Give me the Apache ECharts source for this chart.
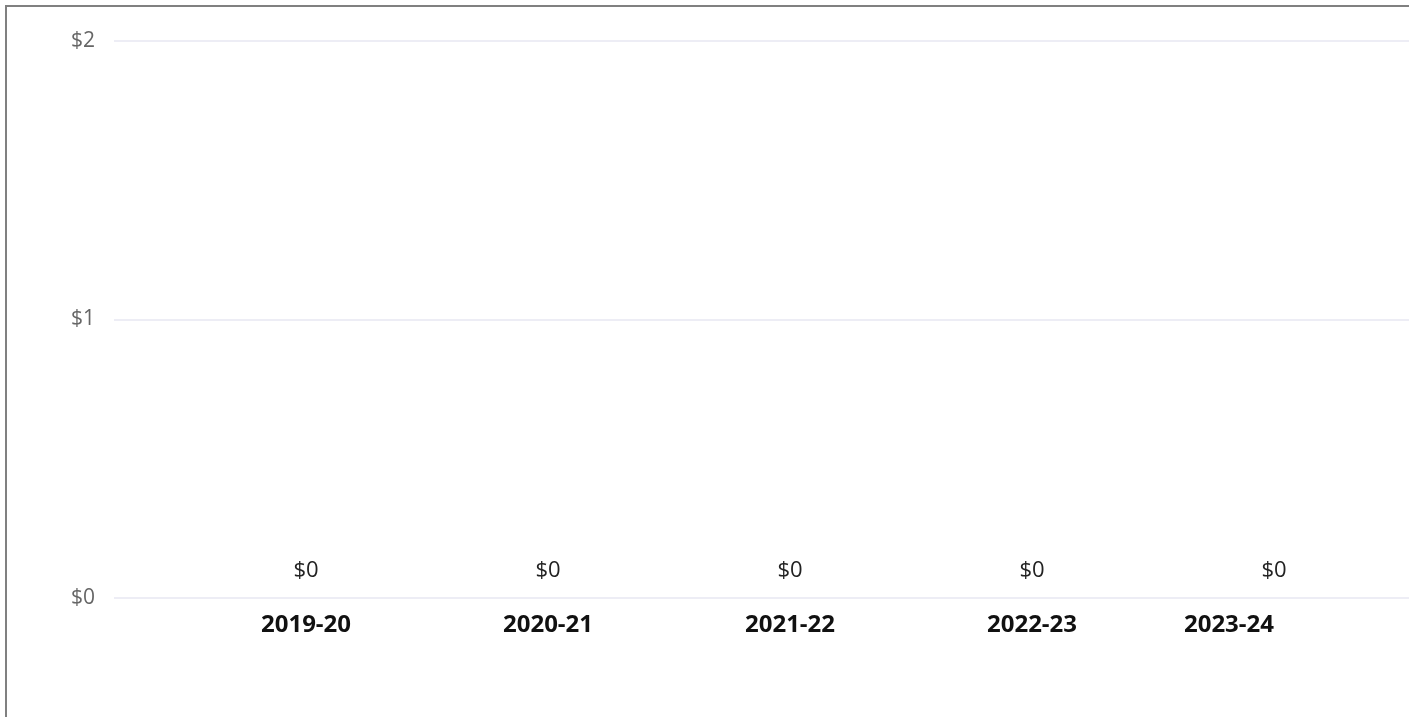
<!DOCTYPE html>
<html>
<head>
<meta charset="utf-8">
<script src="https://cdn.jsdelivr.net/npm/echarts@6/dist/echarts.min.js"></script>
<style>
  html, body { margin: 0; padding: 0; overflow: hidden; background: #fff; }
  #frame {
    position: absolute; left: 5px; top: 5px;
    width: 1500px; height: 800px;
    border: 2px solid #808080;
  }
  #chart { width: 1500px; height: 800px; }
</style>
</head>
<body>
<div id="frame"><div id="chart"></div></div>
<script>
const YEARS = ['2019-20', '2020-21', '2021-22', '2022-23', '2023-24']
const AMOUNTS = [0, 0, 0, 0, 0]
const Y_TICKS = [0, 1, 2]

const FONT = '"Segoe UI", "Open Sans", "Noto Sans", sans-serif'
const money = v => '$' + v

let myChart = echarts.init(document.getElementById('chart'))
myChart.setOption({
  animation: false,
  grid: [
    // background grid: y labels and split lines
    { left: 107, right: 0, top: 34, bottom: 209 },
    // bars
    { left: 178, right: 112, top: 34, bottom: 209 }
  ],
  xAxis: [{
    gridIndex: 0,
    type: 'category',
    data: YEARS,
    show: false
  }, {
    gridIndex: 1,
    type: 'category',
    data: YEARS,
    axisLine: { show: false },
    axisTick: { show: false },
    axisLabel: {
      color: '#111',
      fontFamily: FONT,
      fontWeight: 'bold',
      fontSize: 24,
      margin: 15,
      alignMaxLabel: 'right'
    }
  }],
  yAxis: [{
    gridIndex: 0,
    type: 'value',
    min: Y_TICKS[0],
    max: Y_TICKS[Y_TICKS.length - 1],
    interval: 1,
    axisLine: { show: false },
    axisTick: { show: false },
    axisLabel: {
      color: '#666',
      fontFamily: FONT,
      fontSize: 21,
      margin: 19,
      formatter: money
    },
    splitLine: {
      lineStyle: { color: '#EDEDF5', width: 2 }
    }
  }, {
    gridIndex: 1,
    type: 'value',
    min: Y_TICKS[0],
    max: Y_TICKS[Y_TICKS.length - 1],
    interval: 1,
    show: false,
    splitLine: { show: false }
  }],
  series: [{
    type: 'bar',
    xAxisIndex: 1,
    yAxisIndex: 1,
    barWidth: '60%',
    itemStyle: { color: '#3F6FD8' },
    label: {
      show: true,
      position: 'top',
      distance: 16,
      color: '#222',
      fontFamily: FONT,
      fontSize: 22,
      formatter: p => money(p.value)
    },
    data: AMOUNTS
  }]
})
</script>
</body>
</html>
